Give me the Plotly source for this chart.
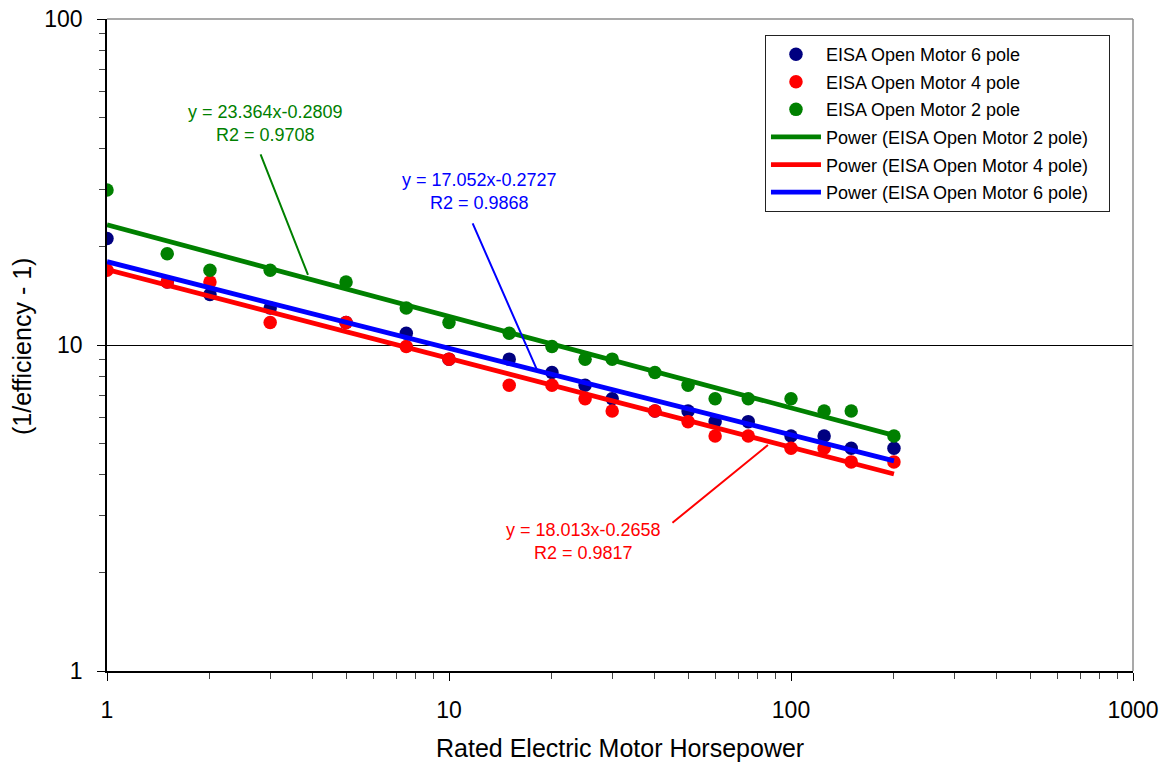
import plotly.graph_objects as go

# Rated horsepower
hp = [1, 1.5, 2, 3, 5, 7.5, 10, 15, 20, 25, 30, 40, 50, 60, 75, 100, 125, 150, 200]

# (1/efficiency - 1) values (in %)
pole6 = [21.21, 15.61, 14.29, 12.99, 11.73, 10.86, 9.05, 9.05, 8.23, 7.53, 6.84,
         6.27, 6.27, 5.82, 5.82, 5.26, 5.26, 4.82, 4.82]
pole4 = [16.96, 15.61, 15.61, 11.73, 11.73, 9.89, 9.05, 7.53, 7.53, 6.84, 6.27,
         6.27, 5.82, 5.26, 5.26, 4.82, 4.82, 4.38, 4.38]
pole2 = [29.87, 19.05, 16.96, 16.96, 15.61, 12.99, 11.73, 10.86, 9.89, 9.05, 9.05,
         8.23, 7.53, 6.84, 6.84, 6.84, 6.27, 6.27, 5.26]

# Power trend line end points
trend_x = [1, 200]
trend_2 = [23.36, 5.28]
trend_4 = [17.05, 4.02]
trend_6 = [18.01, 4.41]

x_ticks = [1, 10, 100, 1000]
y_ticks = [1, 10, 100]

FONT = "Liberation Sans, Arial, sans-serif"
PAD = "\u00a0" * 3  # right padding inside legend box

fig = go.Figure()

scatter_specs = [
    ("EISA Open Motor 6 pole", pole6, "#000080"),
    ("EISA Open Motor 4 pole", pole4, "#FF0000"),
    ("EISA Open Motor 2 pole", pole2, "#008000"),
]
for i, (name, ys, col) in enumerate(scatter_specs):
    fig.add_trace(go.Scatter(x=hp, y=ys, mode="markers", name=name,
                             legendgroup=f"g{i}",
                             marker=dict(color=col, size=13.5, line=dict(width=0))))

line_specs = [
    ("Power (EISA Open Motor 2 pole)", trend_2, "#008000"),
    ("Power (EISA Open Motor 4 pole)", trend_4, "#FF0000"),
    ("Power (EISA Open Motor 6 pole)", trend_6, "#0000FF"),
]
for i, (name, ys, col) in enumerate(line_specs):
    fig.add_trace(go.Scatter(x=trend_x, y=ys, mode="lines", name=name + PAD,
                             legendgroup=f"l{i}",
                             line=dict(color=col, width=4.8)))

annos = [
    dict(text="y = 23.364x-0.2809<br>R2 = 0.9708", x=0.154, y=0.839, color="#008000"),
    dict(text="y = 17.052x-0.2727<br>R2 = 0.9868", x=0.3635, y=0.7347, color="#0000FF"),
    dict(text="y = 18.013x-0.2658<br>R2 = 0.9817", x=0.4649, y=0.1979, color="#FF0000"),
]
for a in annos:
    fig.add_annotation(text=a["text"], x=a["x"], y=a["y"], xref="paper", yref="paper",
                       xanchor="center", yanchor="middle", showarrow=False,
                       font=dict(family=FONT, size=18, color=a["color"]))

leaders = [
    (0.1959, 0.6074, -48, -122, "#008000"),
    (0.4191, 0.4617, -65, -148, "#0000FF"),
    (0.6442, 0.3466, -97, 79, "#FF0000"),
]
for (lx, ly, ax, ay, col) in leaders:
    fig.add_annotation(text="", x=lx, y=ly, xref="paper", yref="paper",
                       ax=ax, ay=ay, showarrow=True, arrowhead=0,
                       arrowwidth=2, arrowcolor=col)

# axis titles
fig.add_annotation(text="Rated Electric Motor Horsepower", x=0.5, y=-0.118,
                   xref="paper", yref="paper", showarrow=False,
                   xanchor="center", yanchor="middle",
                   font=dict(family=FONT, size=25, color="black"))
fig.add_annotation(text="(1/efficiency - 1)", x=-0.0828, y=0.497,
                   xref="paper", yref="paper", showarrow=False, textangle=-90,
                   xanchor="center", yanchor="middle",
                   font=dict(family=FONT, size=25, color="black"))

# gray top/right frame
fig.add_shape(type="line", xref="paper", yref="paper", x0=0, x1=1, y0=1, y1=1,
              line=dict(color="#8c8c8c", width=1.5), layer="above")
fig.add_shape(type="line", xref="paper", yref="paper", x0=1, x1=1, y0=0, y1=1,
              line=dict(color="#8c8c8c", width=1.5), layer="above")

fig.update_layout(
    width=1165, height=763,
    margin=dict(l=107, r=32, t=19, b=92, autoexpand=False),
    paper_bgcolor="white", plot_bgcolor="white",
    font=dict(family=FONT, color="black"),
    showlegend=True,
    legend=dict(x=0.6413, y=0.9755, xanchor="left", yanchor="top",
                bgcolor="white", bordercolor="#222", borderwidth=1,
                font=dict(family=FONT, size=18, color="black"),
                traceorder="grouped", tracegroupgap=1.2,
                itemwidth=50),
    xaxis=dict(type="log", range=[0, 3], showgrid=False, zeroline=False,
               automargin=False,
               showline=True, linecolor="black", linewidth=1.5,
               ticks="outside", ticklen=8, tickwidth=1, tickcolor="black",
               tickvals=x_ticks, ticktext=[str(v) for v in x_ticks],
               tickfont=dict(family=FONT, size=23, color="black"),
               minor=dict(ticks="outside", ticklen=6, tickwidth=1, tickcolor="#444",
                          dtick="D1", showgrid=False),
               ticklabelstandoff=10),
    yaxis=dict(type="log", range=[0, 2], showgrid=True, gridcolor="black", gridwidth=1,
               zeroline=False, automargin=False,
               showline=True, linecolor="black", linewidth=1.5,
               ticks="outside", ticklen=8, tickwidth=1, tickcolor="black",
               tickvals=y_ticks, ticktext=[str(v) for v in y_ticks],
               tickfont=dict(family=FONT, size=23, color="black"),
               minor=dict(ticks="outside", ticklen=6, tickwidth=1, tickcolor="#444",
                          dtick="D1", showgrid=False),
               ticklabelstandoff=10),
)

fig.write_html("out.html")
